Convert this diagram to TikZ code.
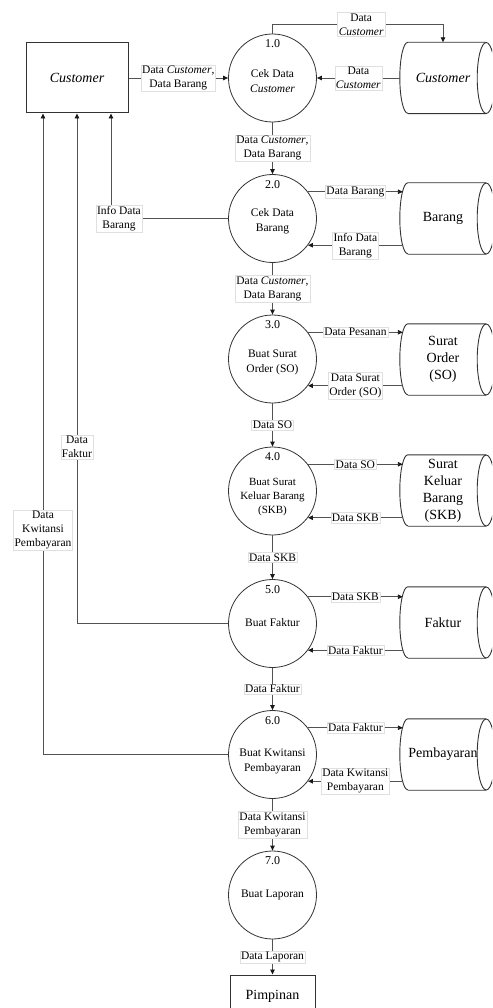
\documentclass[tikz,border=0pt]{standalone}
\usepackage{fontspec}
\setmainfont{Liberation Serif}
\usetikzlibrary{arrows.meta,calc}
\newcommand{\dfstore}[4]{%
  \node[storebox] (#1) at (#2,#3) {#4};
  \draw[storeline] ($(#1.north west)+(8,0)$) -- (#1.north east)
     ($(#1.south west)+(8,0)$) -- (#1.south east)
     ($(#1.north west)+(8,0)$) arc[start angle=90,end angle=270,x radius=8pt,y radius=35.5pt];
  \draw[storeline] (#1.east) ellipse[x radius=9pt,y radius=35.5pt];
}
\begin{document}
\begin{tikzpicture}[x=1pt,y=-1pt,
  line/.style={draw=black!68,line width=0.9pt},
  arr/.style={line,-{Triangle[length=5pt,width=4.5pt,color=black!90]}},
  lbl/.style={fill=white,draw=black!12,line width=0.4pt,inner sep=1.2pt,align=center,font=\fontsize{11.5}{14}\selectfont,text=black},
  proc/.style={circle,draw=black!80,line width=0.8pt,minimum size=88pt,inner sep=0pt},
  ptext/.style={align=center,font=\fontsize{11.5}{15}\selectfont,inner sep=0pt},
  pnum/.style={font=\fontsize{12}{14}\selectfont,inner sep=0pt},
  ent/.style={rectangle,draw=black!80,line width=1pt,align=center,font=\fontsize{14}{17}\selectfont},
  storebox/.style={rectangle,minimum width=86pt,minimum height=71pt,inner sep=0pt,align=center,font=\fontsize{14}{17}\selectfont},
  storeline/.style={draw=black!80,line width=0.9pt},
]
\fill[white] (0,0) rectangle (492,1008);
\clip (0,0) rectangle (492,1008);

% external entities
\node[ent,minimum width=102pt,minimum height=70pt] (cust) at (77,78) {\textit{Customer}};
\node[ent,minimum width=85pt,minimum height=42pt] (pimp) at (272.5,996) {Pimpinan};

% processes
\node[proc] (c1) at (272.5,78) {};
\node[proc] (c2) at (272.5,218.5) {};
\node[proc] (c3) at (272.5,359) {};
\node[proc] (c4) at (272.5,491) {};
\node[proc] (c5) at (272.5,623.5) {};
\node[proc] (c6) at (272.5,754.5) {};
\node[proc] (c7) at (272.5,895) {};

\foreach \i in {1,...,7} {\node[pnum] (n\i) at ($(c\i.north)+(0,10)$) {\i.0};}

\node[ptext] (t1) at ($(c1)+(0,3)$) {Cek Data\\\textit{Customer}};
\node[ptext] (t2) at ($(c2)+(0,3)$) {Cek Data\\Barang};
\node[ptext] (t3) at ($(c3)+(0,3.5)$) {Buat Surat\\Order (SO)};
\node[ptext,font=\fontsize{11}{14}\selectfont] (t4) at ($(c4)+(0,6.5)$) {Buat Surat\\Keluar Barang\\(SKB)};
\node[ptext] (t5) at ($(c5)+(0,-1)$) {Buat Faktur};
\node[ptext] (t6) at ($(c6)+(0,6.5)$) {Buat Kwitansi\\Pembayaran};
\node[ptext] (t7) at (c7) {Buat Laporan};

% data stores
\dfstore{s1}{443}{78}{\textit{Customer}}
\dfstore{s2}{443}{218.5}{Barang}
\dfstore{s3}{443}{359.5}{Surat\\Order\\(SO)}
\dfstore{s4}{443}{490.5}{Surat\\Keluar\\Barang\\(SKB)}
\dfstore{s5}{443}{622.5}{Faktur}
\dfstore{s6}{443}{754.5}{Pembayaran}

% flows level 1
\draw[arr] (cust.east) -- node[lbl]{Data \textit{Customer},\\Data Barang} (c1.west);
\draw[arr] (s1.west) -- node[lbl]{Data\\\textit{Customer}} (c1.east);
\draw[arr] (c1.north) -- ++(0,-9) -| node[lbl,pos=0.26]{Data\\\textit{Customer}} (s1.north);
\draw[arr] (c1.south) -- node[lbl]{Data \textit{Customer},\\Data Barang} (c2.north);

% level 2
\draw[arr] (c2.37) -- node[lbl]{Data Barang} ($(s2.west |- c2.37)+(3,0)$);
\draw[arr] ($(s2.west |- c2.-37)+(3,0)$) -- node[lbl]{Info Data\\Barang} (c2.-37);
\draw[arr] (c2.west) -| node[lbl,pos=0.466]{Info Data\\Barang} ($(cust.south)+(34,0)$);
\draw[arr] (c2.south) -- node[lbl]{Data \textit{Customer},\\Data Barang} (c3.north);

% level 3
\draw[arr] (c3.37) -- node[lbl]{Data Pesanan} ($(s3.west |- c3.37)+(3,0)$);
\draw[arr] ($(s3.west |- c3.-37)+(3,0)$) -- node[lbl]{Data Surat\\Order (SO)} (c3.-37);
\draw[arr] (c3.south) -- node[lbl]{Data SO} (c4.north);

% level 4
\draw[arr] (c4.37) -- node[lbl]{Data SO} ($(s4.west |- c4.37)+(3,0)$);
\draw[arr] ($(s4.west |- c4.-37)+(3,0)$) -- node[lbl]{Data SKB} (c4.-37);
\draw[arr] (c4.south) -- node[lbl]{Data SKB} (c5.north);

% level 5
\draw[arr] (c5.37) -- node[lbl]{Data SKB} ($(s5.west |- c5.37)+(3,0)$);
\draw[arr] ($(s5.west |- c5.-37)+(3,0)$) -- node[lbl]{Data Faktur} (c5.-37);
\draw[arr] (c5.west) -| node[lbl,pos=0.673]{Data\\Faktur} (cust.south);
\draw[arr] (c5.south) -- node[lbl]{Data Faktur} (c6.north);

% level 6
\draw[arr] (c6.37) -- node[lbl]{Data Faktur} ($(s6.west |- c6.37)+(3,0)$);
\draw[arr] ($(s6.west |- c6.-37)+(3,0)$) -- node[lbl]{Data Kwitansi\\Pembayaran} (c6.-37);
\draw[arr] (c6.west) -| node[lbl,pos=0.675]{Data\\Kwitansi\\Pembayaran} ($(cust.south)+(-34,0)$);
\draw[arr] (c6.south) -- node[lbl]{Data Kwitansi\\Pembayaran} (c7.north);

% level 7
\draw[arr] (c7.south) -- node[lbl]{Data Laporan} (pimp.north);
\end{tikzpicture}
\end{document}
